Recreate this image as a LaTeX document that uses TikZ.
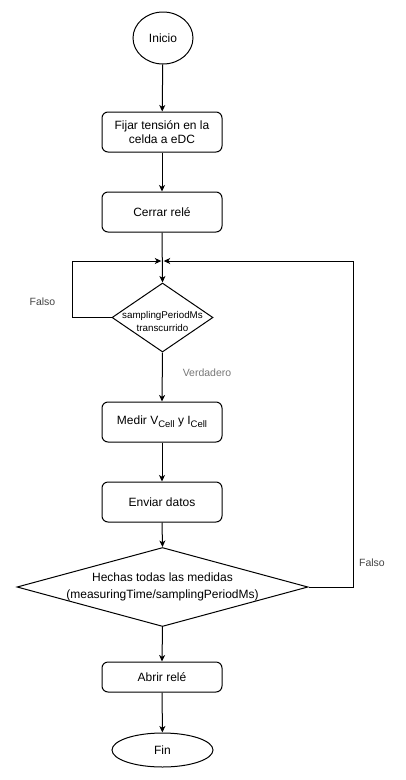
\documentclass[tikz,border=0pt]{standalone}
\usepackage{fontspec}
\setmainfont{Liberation Sans}
\usetikzlibrary{shapes.geometric,arrows.meta}
\definecolor{lblgray}{HTML}{444444}
\definecolor{lblgray2}{HTML}{777777}
\newcommand{\cellsub}{\raisebox{-2.8pt}{\fontsize{9.5}{9.5}\selectfont Cell}}
\begin{document}
\begin{tikzpicture}[x=1pt,y=-1pt,
  every path/.style={line width=1pt},
  box/.style={draw, rounded corners=6pt, minimum width=120pt, minimum height=40pt, inner sep=0pt, align=center, font=\fontsize{12}{14.5}\selectfont},
  term/.style={draw, ellipse, inner sep=0pt, font=\fontsize{12}{14}\selectfont},
  dia/.style={draw, diamond, inner sep=0pt},
  dtext/.style={align=center, inner sep=0pt},
  lbl/.style={font=\fontsize{10.5}{12}\selectfont, text=lblgray, inner sep=0pt},
  arr/.style={-{Stealth[length=6.5pt,width=6pt,inset=1.8pt]}}
]
\useasboundingbox[fill=white] (0,0) rectangle (405,780);
\node[term, minimum width=60pt, minimum height=52pt] (start) at (163,38) {Inicio};
\node[box] (fijar) at (162,132) {Fijar tensión en la\\celda a eDC};
\node[box] (cerrar) at (162,212) {Cerrar relé};
\coordinate (merge) at (162.5,261);
\coordinate (leftc) at (72,261);
\coordinate (rightc) at (353,261);
\node[dia, minimum width=101pt, minimum height=69pt] (d1) at (162.5,317.5) {};
\node[dtext, font=\fontsize{9.8}{13}\selectfont] (d1t) at (162.5,321) {samplingPeriodMs\\transcurrido};
\node[box] (medir) at (162,422) {Medir V\cellsub{} y I\cellsub};
\node[box] (enviar) at (162,502) {Enviar datos};
\node[dia, minimum width=291pt, minimum height=79pt] (d2) at (162.5,587) {};
\node[dtext, font=\fontsize{12}{17}\selectfont] (d2t) at (162.5,587) {Hechas todas las medidas\\(measuringTime/samplingPeriodMs)};
\node[box, minimum height=30pt] (abrir) at (162,677) {Abrir relé};
\node[term, minimum width=101pt, minimum height=34pt] (fin) at (162.5,750) {Fin};

\node[lbl] (falso1) at (42.5,302) {Falso};
\node[lbl, text=lblgray2] (verd) at (207,373) {Verdadero};
\node[lbl] (falso2) at (372,563) {Falso};

\draw[arr] (start) -- (fijar);
\draw[arr] (fijar) -- (cerrar);
\draw[arr] (cerrar.south) -- (d1.north);
\draw[arr] (d1.west) -| (leftc) -- ([xshift=-1.2pt]merge);
\draw[arr] (d2.east) -| (rightc) -- ([xshift=1.2pt]merge);
\draw[arr] (d1.south) -- (medir.north);
\draw[arr] (medir) -- (enviar);
\draw[arr] (enviar.south) -- (d2.north);
\draw[arr] (d2.south) -- (abrir.north);
\draw[arr] (abrir) -- (fin);
\end{tikzpicture}
\end{document}
